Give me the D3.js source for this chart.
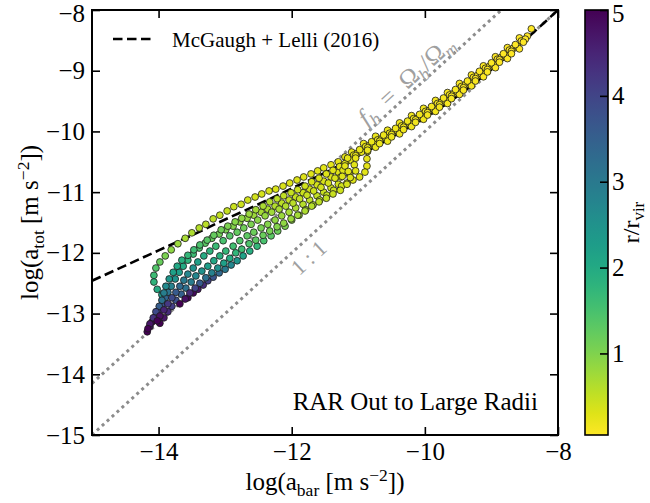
<!DOCTYPE html>
<html>
<head>
<meta charset="utf-8">
<script src="https://cdn.jsdelivr.net/npm/d3@7"></script>
<style>
  body { margin: 0; background: #fff; }
  svg, svg text { font-family: "Liberation Serif", "DejaVu Serif", serif; }
</style>
</head>
<body>
<svg id="rar" width="650" height="503"></svg>
<script>
// Radial acceleration relation out to 5 r_vir, coloured by r / r_vir.
// Each halo track: [log a_bar, log a_tot, r / r_vir]

const haloA = [
  [-8.40,-8.31,0.02],[-8.58,-8.46,0.03],[-8.76,-8.62,0.05],[-8.94,-8.77,0.06],[-9.12,-8.92,0.08],
  [-9.30,-9.07,0.09],[-9.48,-9.21,0.10],[-9.66,-9.36,0.12],[-9.84,-9.49,0.13],[-10.02,-9.62,0.15],
  [-10.20,-9.74,0.16],[-10.38,-9.86,0.18],[-10.56,-9.98,0.19],[-10.74,-10.08,0.21],[-10.92,-10.20,0.22],
  [-11.10,-10.34,0.24],[-11.20,-10.42,0.245],
  [-11.30,-10.50,0.25],[-11.41,-10.55,0.26],[-11.52,-10.60,0.27],[-11.61,-10.65,0.28],[-11.71,-10.70,0.29],
  [-11.82,-10.75,0.30],[-11.92,-10.80,0.31],[-12.03,-10.85,0.32],[-12.13,-10.90,0.33],[-12.24,-10.95,0.34],
  [-12.34,-10.98,0.35],[-12.45,-11.03,0.37],[-12.55,-11.08,0.39],[-12.66,-11.13,0.41],[-12.76,-11.20,0.43],
  [-12.87,-11.24,0.45],[-12.97,-11.31,0.48],[-13.08,-11.38,0.51],[-13.18,-11.44,0.54],[-13.29,-11.53,0.57],
  [-13.39,-11.59,0.60],[-13.50,-11.67,0.65],[-13.60,-11.76,0.70],[-13.71,-11.85,0.80],[-13.81,-11.95,0.90],
  [-13.90,-12.05,1.05],[-13.98,-12.15,1.20],[-14.04,-12.25,1.40],[-14.07,-12.37,1.60],[-14.07,-12.48,1.80],
  [-14.02,-12.60,2.00],[-13.95,-12.69,2.30],[-13.93,-12.81,2.70],[-13.98,-12.91,3.10],[-14.02,-13.01,3.60],
  [-14.07,-13.11,4.10],[-14.13,-13.21,4.60],[-14.17,-13.30,5.00]
];

const haloB = [
  [-8.46,-8.43,0.03],[-8.55,-8.51,0.03],[-8.64,-8.59,0.04],[-8.73,-8.66,0.05],[-8.82,-8.74,0.05],
  [-8.91,-8.81,0.06],[-9.00,-8.89,0.07],[-9.09,-8.96,0.07],[-9.18,-9.03,0.08],[-9.27,-9.11,0.09],
  [-9.36,-9.19,0.10],[-9.45,-9.26,0.10],[-9.54,-9.33,0.11],[-9.63,-9.40,0.11],[-9.72,-9.47,0.12],
  [-9.81,-9.54,0.13],[-9.90,-9.61,0.14],[-9.99,-9.67,0.14],[-10.08,-9.74,0.15],[-10.17,-9.79,0.16],
  [-10.26,-9.85,0.17],[-10.35,-9.91,0.17],[-10.44,-9.97,0.18],[-10.53,-10.03,0.19],[-10.62,-10.08,0.20],
  [-10.71,-10.14,0.20],[-10.80,-10.19,0.21],[-10.89,-10.25,0.22],[-10.98,-10.32,0.23],[-11.07,-10.39,0.24],
  [-11.16,-10.46,0.25],[-11.23,-10.56,0.27],
  [-11.30,-10.67,0.30],[-11.41,-10.75,0.32],[-11.52,-10.82,0.35],[-11.62,-10.88,0.38],[-11.73,-10.95,0.41],
  [-11.83,-11.01,0.45],[-11.94,-11.08,0.49],[-12.04,-11.13,0.53],[-12.15,-11.18,0.57],[-12.25,-11.23,0.62],
  [-12.36,-11.28,0.67],[-12.46,-11.33,0.72],[-12.57,-11.38,0.78],[-12.67,-11.43,0.84],[-12.78,-11.49,0.90],
  [-12.88,-11.56,0.97],[-12.99,-11.62,1.05],[-13.09,-11.69,1.13],[-13.20,-11.76,1.22],[-13.30,-11.84,1.32],
  [-13.39,-11.92,1.45],[-13.48,-12.02,1.60],[-13.56,-12.12,1.80],[-13.63,-12.22,2.00],[-13.69,-12.32,2.25],
  [-13.75,-12.43,2.50],[-13.81,-12.55,2.80],[-13.86,-12.65,3.10],[-13.90,-12.74,3.40],[-13.95,-12.86,3.80],
  [-14.01,-12.96,4.20],[-14.05,-13.06,4.60],[-14.10,-13.14,5.00]
];

const haloC = [
  [-8.52,-8.53,0.03],[-8.61,-8.60,0.04],[-8.70,-8.68,0.04],[-8.79,-8.75,0.05],[-8.88,-8.82,0.06],
  [-8.97,-8.90,0.06],[-9.06,-8.98,0.07],[-9.15,-9.05,0.08],[-9.24,-9.13,0.09],[-9.33,-9.20,0.09],
  [-9.42,-9.28,0.10],[-9.51,-9.35,0.10],[-9.60,-9.42,0.11],[-9.69,-9.49,0.12],[-9.78,-9.56,0.13],
  [-9.87,-9.63,0.13],[-9.96,-9.69,0.14],[-10.05,-9.76,0.15],[-10.14,-9.81,0.16],[-10.23,-9.87,0.16],
  [-10.32,-9.93,0.17],[-10.41,-9.99,0.18],[-10.50,-10.05,0.19],[-10.59,-10.10,0.19],[-10.68,-10.16,0.20],
  [-10.77,-10.21,0.21],[-10.86,-10.27,0.22],[-10.95,-10.34,0.23],[-11.04,-10.40,0.24],[-11.12,-10.47,0.25],
  [-11.20,-10.53,0.26],[-11.23,-10.64,0.30],[-11.26,-10.75,0.35],
  [-11.30,-10.87,0.40],[-11.41,-10.93,0.43],[-11.52,-11.00,0.47],[-11.62,-11.06,0.51],[-11.73,-11.13,0.55],
  [-11.83,-11.20,0.60],[-11.94,-11.26,0.66],[-12.04,-11.33,0.72],[-12.15,-11.39,0.80],[-12.25,-11.46,0.88],
  [-12.36,-11.53,0.97],[-12.46,-11.59,1.06],[-12.57,-11.66,1.16],[-12.67,-11.72,1.27],[-12.78,-11.80,1.40],
  [-12.88,-11.89,1.55],[-12.99,-11.97,1.70],[-13.08,-12.05,1.87],[-13.17,-12.13,2.05],[-13.26,-12.22,2.25],
  [-13.35,-12.30,2.47],[-13.44,-12.38,2.70],[-13.51,-12.48,2.95],[-13.59,-12.58,3.20],[-13.66,-12.68,3.50],
  [-13.74,-12.78,3.80],[-13.80,-12.88,4.10],[-13.86,-12.97,4.40],[-13.92,-13.07,4.70],[-13.98,-13.16,5.00]
];

const haloD = [
  [-8.58,-8.64,0.03],[-8.76,-8.80,0.05],[-8.94,-8.95,0.06],[-9.12,-9.10,0.08],[-9.30,-9.25,0.09],
  [-9.48,-9.39,0.10],[-9.66,-9.54,0.12],[-9.84,-9.67,0.13],[-10.02,-9.80,0.15],[-10.20,-9.92,0.16],
  [-10.38,-10.04,0.18],[-10.56,-10.16,0.19],[-10.74,-10.26,0.21],
  [-10.86,-10.33,0.22],[-10.87,-10.45,0.24],[-10.87,-10.57,0.26],[-10.90,-10.67,0.28],[-10.98,-10.75,0.30],
  [-11.08,-10.80,0.32],[-11.17,-10.85,0.35],[-11.25,-10.90,0.40],
  [-11.37,-10.97,0.45],[-11.47,-11.05,0.50],[-11.58,-11.13,0.56],[-11.68,-11.21,0.63],[-11.79,-11.29,0.71],
  [-11.89,-11.38,0.80],[-12.00,-11.46,0.90],[-12.10,-11.56,1.02],[-12.21,-11.64,1.16],[-12.31,-11.72,1.32],
  [-12.42,-11.80,1.50],[-12.52,-11.89,1.70],[-12.63,-11.97,1.92],[-12.73,-12.05,2.15],[-12.82,-12.13,2.40],
  [-12.91,-12.20,2.70],[-13.00,-12.27,3.00],[-13.09,-12.33,3.35],[-13.18,-12.40,3.70],[-13.26,-12.46,4.05],
  [-13.33,-12.53,4.40],[-13.41,-12.60,4.70],[-13.48,-12.66,4.90],[-13.56,-12.74,5.00]
];

const haloE = [
  [-8.64,-8.57,0.04],[-8.82,-8.72,0.05],[-9.00,-8.87,0.07],[-9.18,-9.01,0.08],[-9.36,-9.17,0.10],
  [-9.54,-9.31,0.11],[-9.72,-9.45,0.12],[-9.90,-9.59,0.14],[-10.08,-9.72,0.15],[-10.26,-9.83,0.17],
  [-10.44,-9.95,0.18],[-10.62,-10.06,0.20],[-10.80,-10.17,0.21],[-10.98,-10.30,0.23],[-11.16,-10.44,0.25],
  [-11.06,-10.55,0.27],[-11.04,-10.65,0.29],[-11.13,-10.71,0.31],[-11.24,-10.74,0.32],
  [-11.35,-10.77,0.33],[-11.45,-10.85,0.36],[-11.56,-10.92,0.39],[-11.67,-10.98,0.43],[-11.77,-11.05,0.47],
  [-11.88,-11.11,0.52],[-11.98,-11.18,0.57],[-12.09,-11.23,0.63],[-12.19,-11.28,0.69],[-12.30,-11.33,0.76],
  [-12.40,-11.39,0.84],[-12.51,-11.46,0.93],[-12.61,-11.53,1.02],[-12.72,-11.59,1.12],[-12.82,-11.66,1.23],
  [-12.93,-11.72,1.35],[-13.03,-11.80,1.50],[-13.14,-11.89,1.65],[-13.23,-11.97,1.80],[-13.32,-12.05,1.98],
  [-13.41,-12.15,2.20],[-13.48,-12.25,2.45],[-13.56,-12.35,2.70],[-13.62,-12.45,3.00],[-13.68,-12.55,3.30],
  [-13.74,-12.65,3.60],[-13.80,-12.74,3.90],[-13.86,-12.84,4.20],[-13.92,-12.94,4.50],[-13.98,-13.04,4.80],
  [-14.02,-13.12,5.00]
];

const haloF = [
  [-8.70,-8.72,0.04],[-8.88,-8.86,0.06],[-9.06,-9.02,0.07],[-9.24,-9.17,0.09],[-9.42,-9.32,0.10],
  [-9.60,-9.46,0.11],[-9.78,-9.60,0.13],[-9.96,-9.73,0.14],[-10.14,-9.85,0.16],[-10.32,-9.97,0.17],
  [-10.50,-10.09,0.19],[-10.68,-10.20,0.20],[-10.86,-10.31,0.22],[-11.04,-10.44,0.24],[-11.20,-10.57,0.26],
  [-11.15,-10.66,0.28],[-11.12,-10.76,0.32],[-11.17,-10.87,0.37],
  [-11.27,-10.97,0.42],[-11.38,-11.03,0.46],[-11.48,-11.10,0.50],[-11.59,-11.16,0.55],[-11.70,-11.23,0.60],
  [-11.80,-11.31,0.66],[-11.91,-11.38,0.73],[-12.01,-11.44,0.80],[-12.12,-11.51,0.88],[-12.22,-11.57,0.97],
  [-12.33,-11.64,1.07],[-12.43,-11.71,1.18],[-12.54,-11.79,1.30],[-12.64,-11.85,1.43],[-12.75,-11.94,1.58],
  [-12.84,-12.00,1.75],[-12.93,-12.09,1.95],[-13.02,-12.17,2.20],[-13.11,-12.25,2.50],[-13.20,-12.33,2.85],
  [-13.29,-12.41,3.20],[-13.38,-12.50,3.60],[-13.45,-12.58,4.00],[-13.53,-12.66,4.40],[-13.60,-12.76,4.80],
  [-13.68,-12.84,5.00]
];

const haloG = [
  [-8.49,-8.48,0.03],[-8.67,-8.63,0.04],[-8.85,-8.78,0.05],[-9.03,-8.93,0.07],[-9.21,-9.08,0.08],
  [-9.39,-9.23,0.10],[-9.57,-9.38,0.11],[-9.75,-9.52,0.12],[-9.93,-9.65,0.14],[-10.11,-9.78,0.15],
  [-10.29,-9.89,0.17],[-10.47,-10.01,0.18],[-10.65,-10.12,0.20],[-10.83,-10.23,0.21],[-11.01,-10.36,0.23],
  [-11.17,-10.49,0.25],[-11.28,-10.58,0.28],
  [-11.38,-10.64,0.30],[-11.48,-10.70,0.32],[-11.59,-10.77,0.34],[-11.70,-10.83,0.37],[-11.80,-10.90,0.40],
  [-11.91,-10.96,0.44],[-12.01,-11.01,0.48],[-12.12,-11.06,0.52],[-12.22,-11.11,0.57],[-12.33,-11.16,0.62],
  [-12.43,-11.23,0.68],[-12.54,-11.29,0.74],[-12.64,-11.36,0.80],[-12.75,-11.43,0.87],[-12.85,-11.49,0.95],
  [-12.96,-11.56,1.03],[-13.06,-11.62,1.12],[-13.17,-11.71,1.22],[-13.27,-11.79,1.33],[-13.38,-11.87,1.45],
  [-13.47,-11.95,1.58],[-13.56,-12.04,1.72],[-13.65,-12.12,1.87],[-13.72,-12.22,2.03],[-13.78,-12.32,2.20],
  [-13.84,-12.43,2.40],[-13.89,-12.55,2.65],[-13.92,-12.66,2.90],[-13.95,-12.78,3.20],[-13.99,-12.88,3.55],
  [-14.04,-12.97,3.90],[-14.08,-13.07,4.30],[-14.13,-13.17,4.70],[-14.16,-13.25,5.00]
];

// McGaugh + Lelli (2016) relation
const mlCurve = [
  [-15,-12.46],[-14.5,-12.21],[-14,-11.96],[-13.5,-11.71],[-13,-11.45],[-12.5,-11.20],[-12,-10.94],
  [-11.5,-10.68],[-11,-10.40],[-10.5,-10.10],[-10,-9.78],[-9.5,-9.41],[-9,-8.98],[-8.5,-8.50],[-8,-8.00]
];

const oneToOne = [[-15,-15],[-8,-8]];
const baryonLine = [[-15,-14.15],[-8.85,-8]];

const xTicks = [-14, -12, -10, -8];
const yTicks = [-15, -14, -13, -12, -11, -10, -9, -8];
const cbarTicks = [1, 2, 3, 4, 5];

const serif = '"Liberation Serif", "DejaVu Serif", serif';
const svg = d3.select("#rar");
const box = { left: 92, right: 558, top: 10, bottom: 435 };

const x = d3.scaleLinear().domain([-15, -8]).range([box.left, box.right]);
const y = d3.scaleLinear().domain([-15, -8]).range([box.bottom, box.top]);
const color = d3.scaleSequential(t => d3.interpolateViridis(1 - t)).domain([0.05, 5]);

svg.append("defs").append("clipPath").attr("id", "plot-clip")
  .append("rect")
  .attr("x", box.left).attr("y", box.top)
  .attr("width", box.right - box.left).attr("height", box.bottom - box.top);

const plot = svg.append("g").attr("clip-path", "url(#plot-clip)");

const line = d3.line().x(d => x(d[0])).y(d => y(d[1]));

// reference lines
[oneToOne, baryonLine].forEach(pts => {
  plot.append("path")
    .attr("d", line(pts))
    .attr("fill", "none")
    .attr("stroke", "#8c8c8c")
    .attr("stroke-width", 3)
    .attr("stroke-dasharray", "3,3.7");
});

plot.append("path")
  .attr("d", line.curve(d3.curveMonotoneX)(mlCurve))
  .attr("fill", "none")
  .attr("stroke", "#000")
  .attr("stroke-width", 2.6)
  .attr("stroke-dasharray", "9.5,4.5");

// scatter
const halos = [haloA, haloB, haloG, haloC, haloD, haloE, haloF];
halos.forEach(track => {
  plot.append("g").selectAll("circle")
    .data(track)
    .join("circle")
    .attr("cx", d => x(d[0]))
    .attr("cy", d => y(d[1]))
    .attr("r", 3.4)
    .attr("fill", d => color(d[2]))
    .attr("stroke", "#1a1a1a")
    .attr("stroke-width", 0.8);
});

// axes, ticks pointing inward on all four sides
function styleAxis(g) {
  g.attr("font-family", null);
  g.select(".domain").remove();
  g.selectAll("line").attr("stroke", "#000").attr("stroke-width", 1.6);
  g.selectAll("text").attr("fill", "#000").attr("font-size", 25)
    .style("font-family", serif);
}

// keep the labels at the very top end inside the picture
function nudgeTop(g, topValue) {
  g.selectAll(".tick").filter(d => d === topValue).select("text").attr("y", 3);
}

const intFmt = d3.format("d");

svg.append("g")
  .attr("transform", `translate(0,${box.bottom})`)
  .call(d3.axisBottom(x).tickValues(xTicks).tickSize(-8).tickPadding(7).tickFormat(intFmt))
  .call(styleAxis);
svg.append("g")
  .attr("transform", `translate(0,${box.top})`)
  .call(d3.axisTop(x).tickValues(xTicks).tickSize(-8).tickFormat(""))
  .call(styleAxis);
svg.append("g")
  .attr("transform", `translate(${box.left},0)`)
  .call(d3.axisLeft(y).tickValues(yTicks).tickSize(-8).tickPadding(7).tickFormat(intFmt))
  .call(styleAxis)
  .call(g => nudgeTop(g, -8));
svg.append("g")
  .attr("transform", `translate(${box.right},0)`)
  .call(d3.axisRight(y).tickValues(yTicks).tickSize(-8).tickFormat(""))
  .call(styleAxis);

svg.append("rect")
  .attr("x", box.left).attr("y", box.top)
  .attr("width", box.right - box.left).attr("height", box.bottom - box.top)
  .attr("fill", "none").attr("stroke", "#000").attr("stroke-width", 2);

// text with sub/superscripts
function richText(sel, parts, size) {
  sel.style("font-family", serif);
  parts.forEach(p => {
    const t = sel.append("tspan").text(p.t);
    if (p.sub) t.attr("font-size", size * 0.7).attr("dy", size * 0.22);
    else if (p.sup) t.attr("font-size", size * 0.7).attr("dy", -size * 0.38);
    else t.attr("font-size", size);
    if (p.italic) t.attr("font-style", "italic");
    if (p.back) t.attr("dy", p.back);
  });
}

const labelSize = 25;
const xLabel = svg.append("text")
  .attr("x", (box.left + box.right) / 2)
  .attr("y", 490)
  .attr("text-anchor", "middle");
richText(xLabel, [
  { t: "log(a" }, { t: "bar", sub: true }, { t: " [m s", back: -labelSize * 0.22 },
  { t: "−2", sup: true }, { t: "])", back: labelSize * 0.38 }
], labelSize);

const yLabel = svg.append("text")
  .attr("transform", `translate(38,${(box.top + box.bottom) / 2}) rotate(-90)`)
  .attr("text-anchor", "middle");
richText(yLabel, [
  { t: "log(a" }, { t: "tot", sub: true }, { t: " [m s", back: -labelSize * 0.22 },
  { t: "−2", sup: true }, { t: "])", back: labelSize * 0.38 }
], labelSize);

// line annotations
const angle = -Math.atan((y(-14) - y(-13)) / (x(-13) - x(-14))) * 180 / Math.PI;
const fbSize = 25;
const fbLabel = svg.append("text")
  .attr("transform", `translate(${x(-10.20)},${y(-9.26)}) rotate(${angle})`)
  .attr("text-anchor", "middle")
  .attr("fill", "#a0a0a0");
richText(fbLabel, [
  { t: "f", italic: true }, { t: "b", sub: true, italic: true },
  { t: "\u2002=\u2002Ω", back: -fbSize * 0.22 },
  { t: "b", sub: true, italic: true }, { t: "/Ω", back: -fbSize * 0.22 }, { t: "m", sub: true, italic: true }
], fbSize);

svg.append("text")
  .attr("transform", `translate(${x(-11.67)},${y(-12.17)}) rotate(${angle})`)
  .attr("text-anchor", "middle")
  .attr("fill", "#a0a0a0")
  .attr("font-size", 22)
  .style("font-family", serif)
  .text("1 : 1");

// legend
svg.append("line")
  .attr("x1", 113).attr("x2", 155).attr("y1", 39).attr("y2", 39)
  .attr("stroke", "#000").attr("stroke-width", 2.6)
  .attr("stroke-dasharray", "9.5,4.5");
svg.append("text")
  .attr("x", 172).attr("y", 47)
  .attr("font-size", 21)
  .style("font-family", serif)
  .text("McGaugh + Lelli (2016)");

svg.append("text")
  .attr("x", 538).attr("y", 410)
  .attr("text-anchor", "end")
  .attr("font-size", 25)
  .style("font-family", serif)
  .text("RAR Out to Large Radii");

// colorbar
const cbar = { left: 585, width: 23 };
const cy = d3.scaleLinear().domain([0.05, 5]).range([box.bottom, box.top]);
const grad = svg.select("defs").append("linearGradient")
  .attr("id", "cbar-grad")
  .attr("x1", 0).attr("y1", 1).attr("x2", 0).attr("y2", 0);
d3.range(0, 21).forEach(i => {
  const v = 0.05 + (5 - 0.05) * i / 20;
  grad.append("stop").attr("offset", i / 20).attr("stop-color", color(v));
});
svg.append("rect")
  .attr("x", cbar.left).attr("y", box.top)
  .attr("width", cbar.width).attr("height", box.bottom - box.top)
  .attr("fill", "url(#cbar-grad)")
  .attr("stroke", "#000").attr("stroke-width", 1.6);

svg.append("g")
  .attr("transform", `translate(${cbar.left + cbar.width},0)`)
  .call(d3.axisRight(cy).tickValues(cbarTicks).tickSize(-8).tickPadding(4).tickFormat(intFmt))
  .call(styleAxis)
  .call(g => nudgeTop(g, 5));

const cLabel = svg.append("text")
  .attr("transform", `translate(639,${(box.top + box.bottom) / 2}) rotate(-90)`)
  .attr("text-anchor", "middle");
richText(cLabel, [
  { t: "r/r" }, { t: "vir", sub: true }
], 24);
</script>
</body>
</html>
